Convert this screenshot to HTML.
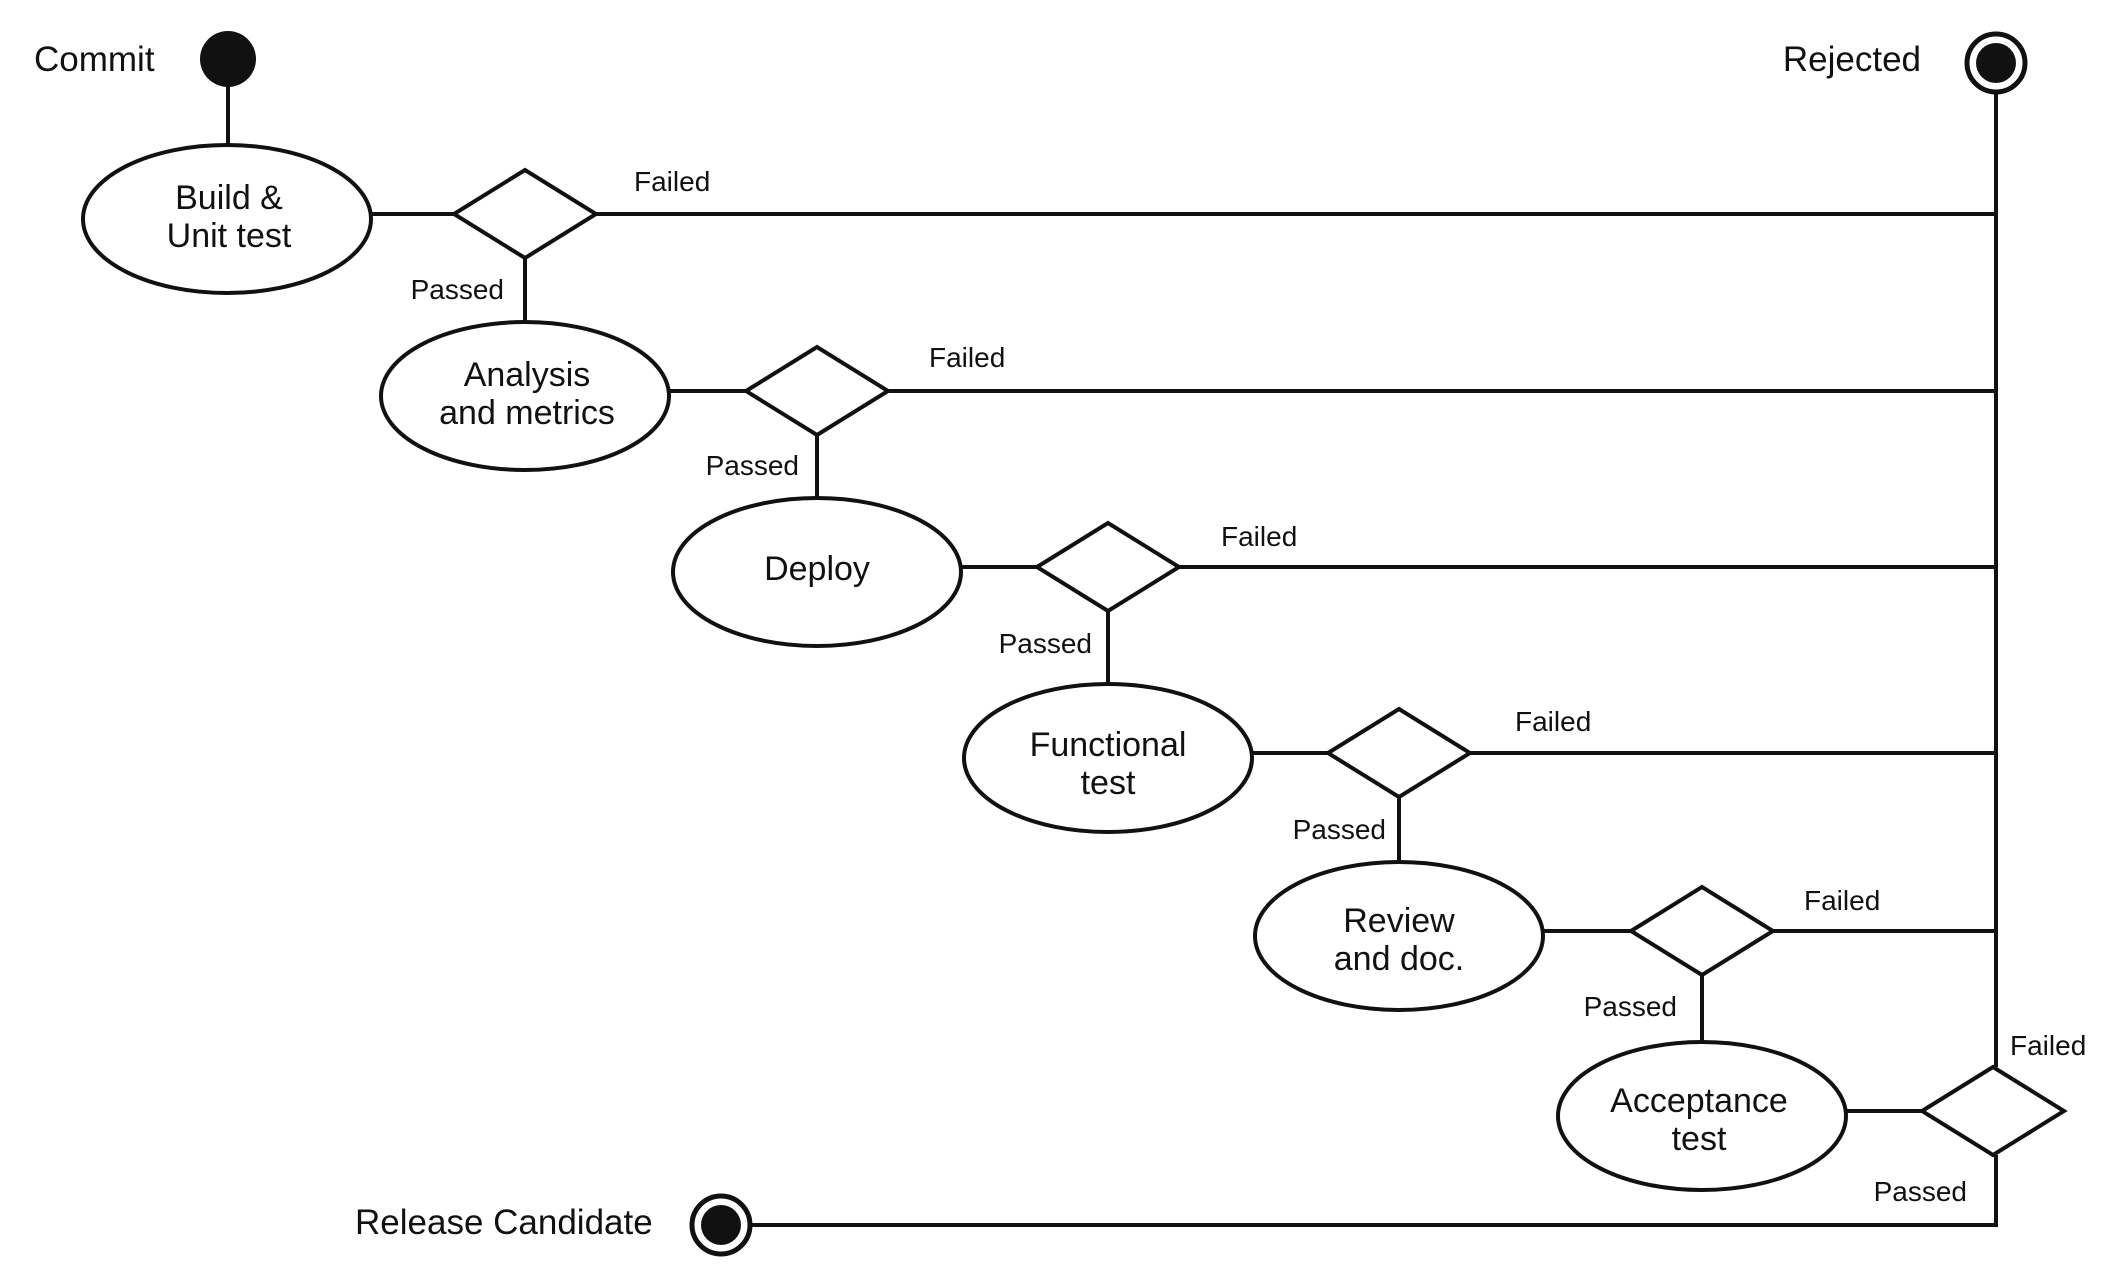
<!DOCTYPE html>
<html><head><meta charset="utf-8"><style>
html,body{margin:0;padding:0;background:#fff;}
svg{display:block;}
text{font-family:"Liberation Sans",sans-serif;fill:#111;}
.l{font-size:28px;}
.n{font-size:34px;}
.t{font-size:35px;}
</style></head><body>
<svg width="2106" height="1278" viewBox="0 0 2106 1278" xmlns="http://www.w3.org/2000/svg">
<g stroke="#111" stroke-width="4" fill="none">
  <line x1="228" y1="59" x2="228" y2="146"/>
  <line x1="1996" y1="63" x2="1996" y2="1067"/>
  <polyline points="721,1225 1996,1225 1996,1155"/>
  <ellipse cx="227" cy="219" rx="144" ry="74" fill="#fff"/>
  <line x1="371" y1="214" x2="454" y2="214"/>
  <polygon points="454,214 525,170 596,214 525,258" fill="#fff"/>
  <line x1="596" y1="214" x2="1996" y2="214"/>
  <line x1="525" y1="258" x2="525" y2="322"/>

  <ellipse cx="525" cy="396" rx="144" ry="74" fill="#fff"/>
  <line x1="669" y1="391" x2="746" y2="391"/>
  <polygon points="746,391 817,347 888,391 817,435" fill="#fff"/>
  <line x1="888" y1="391" x2="1996" y2="391"/>
  <line x1="817" y1="435" x2="817" y2="499"/>

  <ellipse cx="817" cy="572" rx="144" ry="74" fill="#fff"/>
  <line x1="961" y1="567" x2="1037" y2="567"/>
  <polygon points="1037,567 1108,523 1179,567 1108,611" fill="#fff"/>
  <line x1="1179" y1="567" x2="1996" y2="567"/>
  <line x1="1108" y1="611" x2="1108" y2="685"/>

  <ellipse cx="1108" cy="758" rx="144" ry="74" fill="#fff"/>
  <line x1="1252" y1="753" x2="1328" y2="753"/>
  <polygon points="1328,753 1399,709 1470,753 1399,797" fill="#fff"/>
  <line x1="1470" y1="753" x2="1996" y2="753"/>
  <line x1="1399" y1="797" x2="1399" y2="862"/>

  <ellipse cx="1399" cy="936" rx="144" ry="74" fill="#fff"/>
  <line x1="1543" y1="931" x2="1631" y2="931"/>
  <polygon points="1631,931 1702,887 1773,931 1702,975" fill="#fff"/>
  <line x1="1773" y1="931" x2="1996" y2="931"/>
  <line x1="1702" y1="975" x2="1702" y2="1042"/>

  <ellipse cx="1702" cy="1116" rx="144" ry="74" fill="#fff"/>
  <line x1="1846" y1="1111" x2="1922" y2="1111"/>
  <polygon points="1922,1111 1993,1067 2064,1111 1993,1155" fill="#fff"/>
</g>
<circle cx="228" cy="59" r="28" fill="#111"/>
<circle cx="1996" cy="63" r="29" fill="#fff" stroke="#111" stroke-width="5"/>
<circle cx="1996" cy="63" r="20" fill="#111"/>
<circle cx="721" cy="1225" r="29" fill="#fff" stroke="#111" stroke-width="5"/>
<circle cx="721" cy="1225" r="20" fill="#111"/>

<text class="t" x="34" y="71">Commit</text>
<text class="t" x="1921" y="71" text-anchor="end">Rejected</text>
<text class="t" x="355" y="1234">Release Candidate</text>

<g class="n" text-anchor="middle">
<text x="229" y="209">Build &amp;</text><text x="229" y="247">Unit test</text>
<text x="527" y="386">Analysis</text><text x="527" y="424">and metrics</text>
<text x="817" y="580">Deploy</text>
<text x="1108" y="756">Functional</text><text x="1108" y="794">test</text>
<text x="1399" y="932">Review</text><text x="1399" y="970">and doc.</text>
<text x="1699" y="1112">Acceptance</text><text x="1699" y="1150">test</text>
</g>
<g class="l">
<text x="634" y="191">Failed</text>
<text x="929" y="367">Failed</text>
<text x="1221" y="546">Failed</text>
<text x="1515" y="731">Failed</text>
<text x="1804" y="910">Failed</text>
<text x="2010" y="1055">Failed</text>
</g>
<g class="l" text-anchor="end">
<text x="504" y="299">Passed</text>
<text x="799" y="475">Passed</text>
<text x="1092" y="653">Passed</text>
<text x="1386" y="839">Passed</text>
<text x="1677" y="1016">Passed</text>
<text x="1967" y="1201">Passed</text>
</g>
</svg>
</body></html>
